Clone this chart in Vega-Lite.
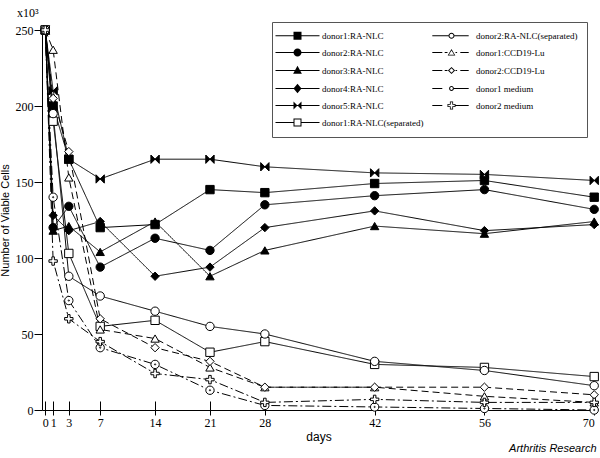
{
  "$schema": "https://vega.github.io/schema/vega-lite/v6.json",
  "width": 553,
  "height": 380,
  "autosize": {"type": "none"},
  "padding": {"left": 42, "top": 30, "right": 5, "bottom": 48},
  "background": "white",
  "config": {
    "view": {"stroke": null},
    "axis": {"domainColor": "black", "tickColor": "black", "labelColor": "black", "labelFont": "Liberation Serif", "labelFontSize": 12, "grid": false, "domainWidth": 1, "tickWidth": 1, "titleColor": "black"}
  },
  "title": {"text": "x10³", "anchor": "start", "frame": "group", "dx": -25, "dy": 11, "offset": 4, "baseline": "alphabetic", "font": "Liberation Serif", "fontSize": 12, "fontWeight": "normal", "color": "black"},
  "data": {"values": [
    {"s":"donor1:RA-NLC","d":0,"v":250},{"s":"donor1:RA-NLC","d":1,"v":200},{"s":"donor1:RA-NLC","d":3,"v":165},{"s":"donor1:RA-NLC","d":7,"v":120},{"s":"donor1:RA-NLC","d":14,"v":122},{"s":"donor1:RA-NLC","d":21,"v":145},{"s":"donor1:RA-NLC","d":28,"v":143},{"s":"donor1:RA-NLC","d":42,"v":149},{"s":"donor1:RA-NLC","d":56,"v":151},{"s":"donor1:RA-NLC","d":70,"v":140},
    {"s":"donor2:RA-NLC","d":0,"v":250},{"s":"donor2:RA-NLC","d":1,"v":120},{"s":"donor2:RA-NLC","d":3,"v":134},{"s":"donor2:RA-NLC","d":7,"v":94},{"s":"donor2:RA-NLC","d":14,"v":113},{"s":"donor2:RA-NLC","d":21,"v":105},{"s":"donor2:RA-NLC","d":28,"v":135},{"s":"donor2:RA-NLC","d":42,"v":141},{"s":"donor2:RA-NLC","d":56,"v":145},{"s":"donor2:RA-NLC","d":70,"v":132},
    {"s":"donor3:RA-NLC","d":0,"v":250},{"s":"donor3:RA-NLC","d":1,"v":118},{"s":"donor3:RA-NLC","d":3,"v":121},{"s":"donor3:RA-NLC","d":7,"v":104},{"s":"donor3:RA-NLC","d":14,"v":124},{"s":"donor3:RA-NLC","d":21,"v":88},{"s":"donor3:RA-NLC","d":28,"v":105},{"s":"donor3:RA-NLC","d":42,"v":121},{"s":"donor3:RA-NLC","d":56,"v":116},{"s":"donor3:RA-NLC","d":70,"v":124},
    {"s":"donor4:RA-NLC","d":0,"v":250},{"s":"donor4:RA-NLC","d":1,"v":128},{"s":"donor4:RA-NLC","d":3,"v":118},{"s":"donor4:RA-NLC","d":7,"v":124},{"s":"donor4:RA-NLC","d":14,"v":88},{"s":"donor4:RA-NLC","d":21,"v":94},{"s":"donor4:RA-NLC","d":28,"v":120},{"s":"donor4:RA-NLC","d":42,"v":131},{"s":"donor4:RA-NLC","d":56,"v":118},{"s":"donor4:RA-NLC","d":70,"v":122},
    {"s":"donor5:RA-NLC","d":0,"v":250},{"s":"donor5:RA-NLC","d":1,"v":210},{"s":"donor5:RA-NLC","d":3,"v":165},{"s":"donor5:RA-NLC","d":7,"v":152},{"s":"donor5:RA-NLC","d":14,"v":165},{"s":"donor5:RA-NLC","d":21,"v":165},{"s":"donor5:RA-NLC","d":28,"v":160},{"s":"donor5:RA-NLC","d":42,"v":156},{"s":"donor5:RA-NLC","d":56,"v":155},{"s":"donor5:RA-NLC","d":70,"v":151},
    {"s":"donor1:RA-NLC(separated)","d":0,"v":250},{"s":"donor1:RA-NLC(separated)","d":1,"v":190},{"s":"donor1:RA-NLC(separated)","d":3,"v":103},{"s":"donor1:RA-NLC(separated)","d":7,"v":55},{"s":"donor1:RA-NLC(separated)","d":14,"v":59},{"s":"donor1:RA-NLC(separated)","d":21,"v":38},{"s":"donor1:RA-NLC(separated)","d":28,"v":45},{"s":"donor1:RA-NLC(separated)","d":42,"v":30},{"s":"donor1:RA-NLC(separated)","d":56,"v":28},{"s":"donor1:RA-NLC(separated)","d":70,"v":22},
    {"s":"donor2:RA-NLC(separated)","d":0,"v":250},{"s":"donor2:RA-NLC(separated)","d":1,"v":195},{"s":"donor2:RA-NLC(separated)","d":3,"v":88},{"s":"donor2:RA-NLC(separated)","d":7,"v":75},{"s":"donor2:RA-NLC(separated)","d":14,"v":65},{"s":"donor2:RA-NLC(separated)","d":21,"v":55},{"s":"donor2:RA-NLC(separated)","d":28,"v":50},{"s":"donor2:RA-NLC(separated)","d":42,"v":32},{"s":"donor2:RA-NLC(separated)","d":56,"v":26},{"s":"donor2:RA-NLC(separated)","d":70,"v":16},
    {"s":"donor1:CCD19-Lu","d":0,"v":250},{"s":"donor1:CCD19-Lu","d":1,"v":237},{"s":"donor1:CCD19-Lu","d":3,"v":153},{"s":"donor1:CCD19-Lu","d":7,"v":53},{"s":"donor1:CCD19-Lu","d":14,"v":47},{"s":"donor1:CCD19-Lu","d":21,"v":28},{"s":"donor1:CCD19-Lu","d":28,"v":15},{"s":"donor1:CCD19-Lu","d":42,"v":15},{"s":"donor1:CCD19-Lu","d":56,"v":9},{"s":"donor1:CCD19-Lu","d":70,"v":5},
    {"s":"donor2:CCD19-Lu","d":0,"v":250},{"s":"donor2:CCD19-Lu","d":1,"v":205},{"s":"donor2:CCD19-Lu","d":3,"v":170},{"s":"donor2:CCD19-Lu","d":7,"v":60},{"s":"donor2:CCD19-Lu","d":14,"v":41},{"s":"donor2:CCD19-Lu","d":21,"v":32},{"s":"donor2:CCD19-Lu","d":28,"v":15},{"s":"donor2:CCD19-Lu","d":42,"v":15},{"s":"donor2:CCD19-Lu","d":56,"v":15},{"s":"donor2:CCD19-Lu","d":70,"v":10},
    {"s":"donor1 medium","d":0,"v":250},{"s":"donor1 medium","d":1,"v":140},{"s":"donor1 medium","d":3,"v":72},{"s":"donor1 medium","d":7,"v":41},{"s":"donor1 medium","d":14,"v":30},{"s":"donor1 medium","d":21,"v":13},{"s":"donor1 medium","d":28,"v":3},{"s":"donor1 medium","d":42,"v":2},{"s":"donor1 medium","d":56,"v":1},{"s":"donor1 medium","d":70,"v":0},
    {"s":"donor2 medium","d":0,"v":250},{"s":"donor2 medium","d":1,"v":98},{"s":"donor2 medium","d":3,"v":60},{"s":"donor2 medium","d":7,"v":45},{"s":"donor2 medium","d":14,"v":24},{"s":"donor2 medium","d":21,"v":20},{"s":"donor2 medium","d":28,"v":5},{"s":"donor2 medium","d":42,"v":7},{"s":"donor2 medium","d":56,"v":5},{"s":"donor2 medium","d":70,"v":5}
  ]},
  "resolve": {"axis": {"x": "independent"}, "scale": {"shape": "independent"}},
  "layer": [
    {
      "transform": [{"filter": "datum.d == 0"}],
      "mark": {"type": "point", "filled": true, "color": "black", "size": 64, "clip": true, "opacity": 1},
      "encoding": {
        "x": {"field": "v", "type": "quantitative", "axis": null},
        "y": {"field": "d", "type": "quantitative"},
        "shape": {"field": "s", "type": "nominal",
          "scale": {"domain": ["donor1:RA-NLC","donor2:RA-NLC","donor3:RA-NLC","donor4:RA-NLC","donor5:RA-NLC","donor1:RA-NLC(separated)","donor2:RA-NLC(separated)","donor1:CCD19-Lu","donor2:CCD19-Lu","donor1 medium","donor2 medium"],
            "range": [
              "M-5.5,-0.125H5.5V0.125H-5.5ZM-1,-1H1V1H-1Z",
              "M-5.5,-0.125H5.5V0.125H-5.5ZM-1,0A1,1,0,1,1,1,0A1,1,0,1,1,-1,0Z",
              "M-5.5,-0.125H5.5V0.125H-5.5ZM0,-1.2L1.1,0.8L-1.1,0.8Z",
              "M-5.5,-0.125H5.5V0.125H-5.5ZM0,-1.2L1,0L0,1.2L-1,0Z",
              "M-5.5,-0.125H5.5V0.125H-5.5ZM-1,-1L0,0L-1,1ZM1,-1L1,1L0,0Z",
              "M-5.5,-0.125H-1V0.125H-5.5ZM1,-0.125H5.5V0.125H1ZM-1,-1H1V1H-1ZM-0.75,-0.75V0.75H0.75V-0.75Z",
              "M-4.8,-0.125H-0.75V0.125H-4.8ZM0.75,-0.125H4.3V0.125H0.75ZM-0.75,0A0.75,0.75,0,1,1,0.75,0A0.75,0.75,0,1,1,-0.75,0ZM-0.5,0A0.5,0.5,0,1,0,0.5,0A0.5,0.5,0,1,0,-0.5,0Z",
              "M-4.8,-0.125H-2.3V0.125H-4.8ZM-1.7,-0.125H-1V0.125H-1.7ZM1,-0.125H1.4V0.125H1ZM2.2,-0.125H4.3V0.125H2.2ZM0,-0.9L0.95,0.75L-0.95,0.75ZM0,-0.5L-0.65,0.55L0.65,0.55Z",
              "M-4.8,-0.125H-2.3V0.125H-4.8ZM-1.7,-0.125H-1V0.125H-1.7ZM1,-0.125H1.4V0.125H1ZM2.2,-0.125H4.3V0.125H2.2ZM0,-0.9L0.9,0L0,0.9L-0.9,0ZM0,-0.55L-0.55,0L0,0.55L0.55,0Z",
              "M-4.8,-0.125H-2.3V0.125H-4.8ZM0.6,-0.125H4.3V0.125H0.6ZM-0.6,0A0.6,0.6,0,1,1,0.6,0A0.6,0.6,0,1,1,-0.6,0ZM-0.35,0A0.35,0.35,0,1,0,0.35,0A0.35,0.35,0,1,0,-0.35,0Z",
              "M-4.8,-0.125H-2.3V0.125H-4.8ZM1,-0.125H4.3V0.125H1ZM-0.4,-1H0.4V-0.4H1V0.4H0.4V1H-0.4V0.4H-1V-0.4H-0.4ZM-0.2,-0.8V-0.2H-0.8V0.2H-0.2V0.8H0.2V0.2H0.8V-0.2H0.2V-0.8Z"
            ]},
          "legend": {
            "title": null, "orient": "none", "legendX": 230, "legendY": -8, "columns": 2, "columnPadding": 8, "rowPadding": 7,
            "padding": 9, "strokeColor": "#555", "fillColor": "white",
            "labelFont": "Liberation Serif", "labelFontSize": 9, "labelColor": "black", "labelOffset": 20, "symbolOffset": 12, "symbolSize": 64,
            "symbolStrokeWidth": 0, "symbolOpacity": 1}}
      }
    },
    {
      "mark": {"type": "line", "stroke": "black", "strokeWidth": 1},
      "encoding": {
        "x": {"field": "d", "type": "quantitative", "scale": {"domain": [-0.42, 70.1], "nice": false, "zero": false},
          "axis": {"orient": "bottom", "values": [0,1,3,7,14,21,28,42,56,70], "tickSize": 5, "labelPadding": 2, "labelOverlap": false, "title": "days", "titleFont": "Liberation Sans", "titleFontSize": 12, "titleFontWeight": "normal", "titlePadding": 3}},
        "y": {"field": "v", "type": "quantitative", "scale": {"domain": [0, 250], "nice": false},
          "axis": {"values": [0,50,100,150,200,250], "tickSize": 8, "labelPadding": 1, "title": "Number of Viable Cells", "titleFont": "Liberation Sans", "titleFontSize": 11, "titleFontWeight": "normal", "titlePadding": 5}},
        "detail": {"field": "s"},
        "strokeDash": {"field": "s", "type": "nominal", "legend": null,
          "scale": {"domain": ["donor1:RA-NLC","donor2:RA-NLC","donor3:RA-NLC","donor4:RA-NLC","donor5:RA-NLC","donor1:RA-NLC(separated)","donor2:RA-NLC(separated)","donor1:CCD19-Lu","donor2:CCD19-Lu","donor1 medium","donor2 medium"],
            "range": [[1,0],[1,0],[1,0],[1,0],[1,0],[1,0],[1,0],[7,4],[7,4],[9,3,2,3],[9,3,2,3]]}}
      }
    },
    {
      "mark": {"type": "point", "stroke": "black", "strokeWidth": 1, "opacity": 1, "size": 70},
      "encoding": {
        "x": {"field": "d", "type": "quantitative", "scale": {"domain": [-0.42, 70.1], "nice": false, "zero": false},
          "axis": {"orient": "bottom", "values": [0,1,3,7,14,21,28,42,56,70], "labels": false, "domain": false, "tickSize": 9, "offset": -9,
            "title": "Arthritis Research", "titleFont": "Liberation Sans", "titleFontSize": 11, "titleFontStyle": "italic", "titleFontWeight": "normal", "titleX": 554, "titleY": 50, "titleAlign": "right", "titleBaseline": "alphabetic", "titleAngle": 0}},
        "y": {"field": "v", "type": "quantitative"},
        "shape": {"field": "s", "type": "nominal", "legend": null,
          "scale": {"domain": ["donor1:RA-NLC","donor2:RA-NLC","donor3:RA-NLC","donor4:RA-NLC","donor5:RA-NLC","donor1:RA-NLC(separated)","donor2:RA-NLC(separated)","donor1:CCD19-Lu","donor2:CCD19-Lu","donor1 medium","donor2 medium"],
            "range": ["square","circle","triangle-up","diamond","M-1,-1L1,1L1,-1L-1,1Z","square","circle","triangle-up","diamond","M-1,0A1,1,0,1,1,1,0A1,1,0,1,1,-1,0ZM-0.15,0A0.15,0.15,0,1,1,0.15,0A0.15,0.15,0,1,1,-0.15,0Z","M-0.3,-1H0.3V-0.3H1V0.3H0.3V1H-0.3V0.3H-1V-0.3H-0.3Z"]}},
        "fill": {"field": "s", "type": "nominal", "legend": null,
          "scale": {"domain": ["donor1:RA-NLC","donor2:RA-NLC","donor3:RA-NLC","donor4:RA-NLC","donor5:RA-NLC","donor1:RA-NLC(separated)","donor2:RA-NLC(separated)","donor1:CCD19-Lu","donor2:CCD19-Lu","donor1 medium","donor2 medium"],
            "range": ["black","black","black","black","black","white","white","white","white","white","white"]}}
      }
    }
  ]
}
